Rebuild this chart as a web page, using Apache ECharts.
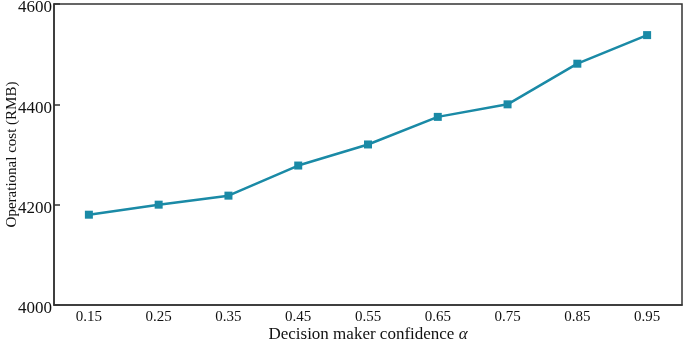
<!DOCTYPE html>
<html>
<head>
<meta charset="utf-8">
<script src="https://cdn.jsdelivr.net/npm/echarts@6/dist/echarts.min.js"></script>
<style>
  html, body { margin: 0; padding: 0; background: #fff; }
  #chart { width: 685px; height: 341px; }
</style>
</head>
<body>
<div id="chart"></div>
<script>
const alphas = ['0.15', '0.25', '0.35', '0.45', '0.55', '0.65', '0.75', '0.85', '0.95']
const costs = [4180, 4200, 4218, 4278, 4320, 4375, 4400, 4481, 4538]

const font = '"Liberation Serif", "Times New Roman", serif'
const chart = echarts.init(document.getElementById('chart'))

chart.setOption({
  backgroundColor: '#fff',
  animation: false,
  grid: {
    left: 54, right: 3, top: 4, bottom: 36,
    outerBoundsMode: 'none',
    containLabel: false,
    show: true, borderColor: '#333', borderWidth: 1.5,
  },
  xAxis: {
    type: 'category',
    data: alphas,
    boundaryGap: true,
    name: '{t|Decision maker confidence }{a|α}',
    nameLocation: 'middle',
    nameGap: 21,
    nameMoveOverlap: false,
    nameTextStyle: {
      rich: {
        t: { fontFamily: font, fontSize: 17, color: '#111' },
        a: { fontFamily: font, fontSize: 17, color: '#111', fontStyle: 'italic' },
      },
    },
    axisLine: { lineStyle: { color: '#333', width: 1.5 } },
    axisTick: { show: false },
    axisLabel: { fontFamily: font, fontSize: 15, color: '#111', margin: 5 },
  },
  yAxis: {
    type: 'value',
    min: 4000, max: 4600, interval: 200,
    name: 'Operational cost (RMB)',
    nameLocation: 'middle',
    nameGap: 34,
    nameMoveOverlap: false,
    nameTextStyle: { fontFamily: font, fontSize: 15, color: '#111' },
    axisLine: { show: true, lineStyle: { color: '#333', width: 1.5 } },
    axisTick: { show: true, inside: true, length: 6, lineStyle: { color: '#333', width: 1.5 } },
    axisLabel: {
      margin: 2,
      formatter: v => '{v|' + v + '}',
      rich: {
        v: { fontFamily: font, fontSize: 17, color: '#111', padding: [8, 0, 0, 0] },
      },
    },
    splitLine: { show: false },
  },
  series: [{
    type: 'line',
    data: costs,
    symbol: 'rect',
    symbolSize: 8,
    lineStyle: { color: '#1a8aa6', width: 2.5 },
    itemStyle: { color: '#1a8aa6' },
  }],
})
</script>
</body>
</html>
